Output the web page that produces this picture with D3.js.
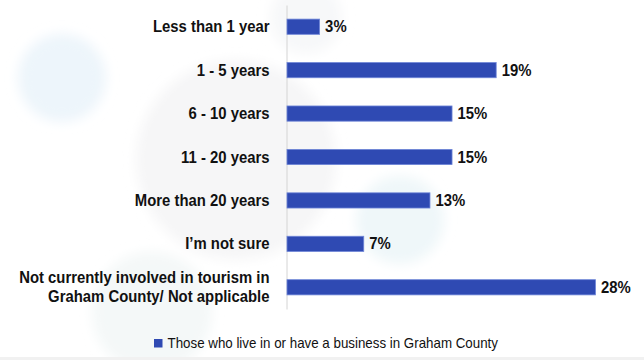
<!DOCTYPE html>
<html>
<head>
<meta charset="utf-8">
<script src="https://cdn.jsdelivr.net/npm/d3@7"></script>
<style>
  html, body { margin: 0; padding: 0; background: #ffffff; }
  svg { display: block; }
  text { font-family: "Liberation Sans", Arial, sans-serif; fill: #111111; }
</style>
</head>
<body>
<svg id="chart" width="644" height="360"></svg>
<script>
// Years involved in tourism in Graham County (% of respondents)
const categories = [
  ["Less than 1 year"],
  ["1 - 5 years"],
  ["6 - 10 years"],
  ["11 - 20 years"],
  ["More than 20 years"],
  ["I\u2019m not sure"],
  ["Not currently involved in tourism in", "Graham County/ Not applicable"]
];
const values = [3, 19, 15, 15, 13, 7, 28];
const seriesName = "Those who live in or have a business in Graham County";

const W = 644, H = 360;
const barColor = "#2f4ab3";
const squeeze = 0.93; // narrow type, as on the slide

const svg = d3.select("#chart");

// faint decorative bubbles behind the chart
const defs = svg.append("defs");
defs.append("filter").attr("id", "soft")
  .attr("x", "-50%").attr("y", "-50%").attr("width", "200%").attr("height", "200%")
  .append("feGaussianBlur").attr("stdDeviation", 6);

const bubbles = [
  { cx: 62,  cy: 78,  r: 44,  c: "#edf5fb" },
  { cx: 236, cy: 160, r: 100, c: "#f6f6f7" },
  { cx: 400, cy: 220, r: 44,  c: "#eff7f9" },
  { cx: 152, cy: 312, r: 60,  c: "#f4f8f8" },
  { cx: 306, cy: 18,  r: 36,  c: "#f7f8f9" }
];
svg.append("g").attr("filter", "url(#soft)")
  .selectAll("circle").data(bubbles).join("circle")
  .attr("cx", d => d.cx).attr("cy", d => d.cy).attr("r", d => d.r)
  .attr("fill", d => d.c);

// thin grey strip along the bottom edge
svg.append("rect").attr("x", 0).attr("y", 357).attr("width", W).attr("height", 3)
  .attr("fill", "#f1f1f1");

const x = d3.scaleLinear().domain([0, 28]).range([286.5, 595.5]);
const y = d3.scaleBand().domain(d3.range(values.length)).range([5, 309])
  .paddingInner(0.65).paddingOuter(0.325);

// vertical category axis line
const yAxis = d3.axisLeft(y).tickSize(0).tickFormat("");
const axisG = svg.append("g").attr("transform", `translate(${x(0)},0)`).call(yAxis);
axisG.select(".domain").attr("stroke", "#d4d4d4").attr("stroke-width", 1);

// bars
svg.append("g").selectAll("rect").data(values).join("rect")
  .attr("x", x(0) + 0.5)
  .attr("y", (d, i) => y(i))
  .attr("width", d => x(d) - x(0) - 0.5)
  .attr("height", y.bandwidth())
  .attr("fill", barColor)
  .attr("stroke", "#6f86d8")
  .attr("stroke-width", 0.8);

// category labels (right aligned, possibly two lines)
const labelX = 269.5;
const lineH = 19;
const catG = svg.append("g");
categories.forEach((lines, i) => {
  const cy = y(i) + y.bandwidth() / 2;
  lines.forEach((line, j) => {
    const by = cy + 5.6 + (j - (lines.length - 1) / 2) * lineH;
    catG.append("text")
      .attr("transform", `translate(${labelX},${by}) scale(${squeeze},1)`)
      .attr("text-anchor", "end")
      .attr("font-size", 16)
      .attr("font-weight", "bold")
      .text(line);
  });
});

// value labels
svg.append("g").selectAll("text").data(values).join("text")
  .attr("transform", (d, i) => `translate(${x(d) + 5.5},${y(i) + y.bandwidth() / 2 + 5.6}) scale(${squeeze},1)`)
  .attr("font-size", 16)
  .attr("font-weight", "bold")
  .text(d => d + "%");

// legend
const lg = svg.append("g");
lg.append("rect").attr("x", 154).attr("y", 339).attr("width", 8.5).attr("height", 8.5)
  .attr("fill", barColor);
lg.append("text")
  .attr("transform", `translate(167.5,348.3) scale(0.92,1)`)
  .attr("font-size", 14.5)
  .attr("fill", "#222222")
  .text(seriesName);
</script>
</body>
</html>
